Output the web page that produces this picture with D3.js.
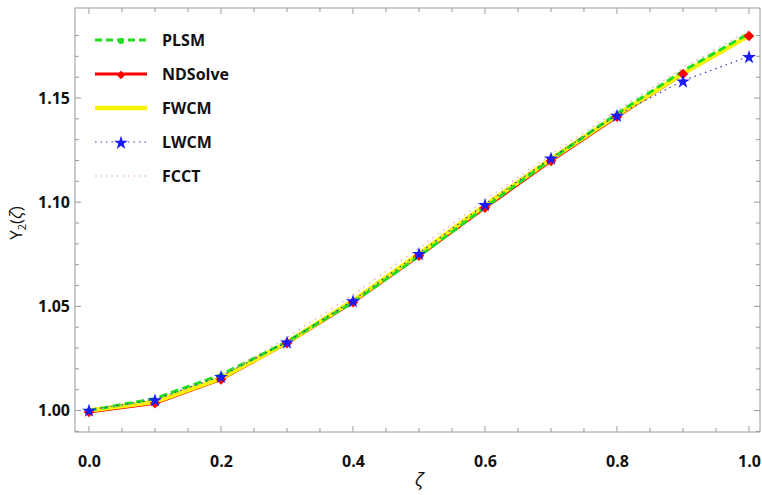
<!DOCTYPE html>
<html>
<head>
<meta charset="utf-8">
<script src="https://cdn.jsdelivr.net/npm/d3@7"></script>
<style>
  body { margin: 0; background: #fff; }
  svg { display: block; }
  text { font-family: "Open Sans", "DejaVu Sans", sans-serif; }
</style>
</head>
<body>
<svg id="chart" width="762" height="495"></svg>
<script>
const zeta = [0.0, 0.1, 0.2, 0.3, 0.4, 0.5, 0.6, 0.7, 0.8, 0.9, 1.0];
const PLSM    = [1.0000, 1.0058, 1.0172, 1.0330, 1.0520, 1.0740, 1.0975, 1.1205, 1.1425, 1.1630, 1.1810];
const NDSolve = [0.9993, 1.0035, 1.0149, 1.0323, 1.0520, 1.0743, 1.0973, 1.1198, 1.1410, 1.1615, 1.1798];
const FWCM    = [1.0000, 1.0042, 1.0155, 1.0327, 1.0527, 1.0752, 1.0985, 1.1207, 1.1418, 1.1618, 1.1800];
const LWCM    = [1.0003, 1.0053, 1.0165, 1.0330, 1.0528, 1.0755, 1.0990, 1.1213, 1.1418, 1.1583, 1.1700];
const FCCT    = [1.0000, 1.0045, 1.0165, 1.0350, 1.0555, 1.0780, 1.1010, 1.1230, 1.1440, 1.1645, 1.1825];
const xTicks = [0.0, 0.2, 0.4, 0.6, 0.8, 1.0];
const yTicks = [1.00, 1.05, 1.10, 1.15];
const seriesNames = ["PLSM", "NDSolve", "FWCM", "LWCM", "FCCT"];

const svg = d3.select("#chart");
const L = 75, R = 760, T = 8, B = 432;
const x = d3.scaleLinear().domain([-0.02121, 1.01667]).range([L, R]);
const y = d3.scaleLinear().domain([0.9897, 1.1932]).range([B, T]);
const frameColor = "#9a9a9a";

// frame
svg.append("rect").attr("x", L).attr("y", T).attr("width", R - L).attr("height", B - T)
  .attr("fill", "none").attr("stroke", frameColor).attr("stroke-width", 1);

// ticks (inward on all four sides)
const xMinor = d3.range(0, 1.0001, 0.05);
const yMinor = d3.range(0.99, 1.19, 0.01);
const tk = svg.append("g").attr("stroke", frameColor).attr("stroke-width", 1);
xMinor.forEach(v => {
  const len = (Math.abs(v * 5 - Math.round(v * 5)) < 1e-6) ? 6 : 4;
  tk.append("line").attr("x1", x(v)).attr("x2", x(v)).attr("y1", B).attr("y2", B - len);
  tk.append("line").attr("x1", x(v)).attr("x2", x(v)).attr("y1", T).attr("y2", T + len);
});
yMinor.forEach(v => {
  if (y(v) > B || y(v) < T) return;
  const len = (Math.abs(v * 20 - Math.round(v * 20)) < 1e-6) ? 6 : 4;
  tk.append("line").attr("y1", y(v)).attr("y2", y(v)).attr("x1", L).attr("x2", L + len);
  tk.append("line").attr("y1", y(v)).attr("y2", y(v)).attr("x1", R).attr("x2", R - len);
});

// tick labels via axis generators (lines hidden)
const xAxis = svg.append("g").attr("transform", `translate(0,${B})`)
  .call(d3.axisBottom(x).tickValues(xTicks).tickFormat(d3.format(".1f")).tickSize(0).tickPadding(24));
const yAxis = svg.append("g").attr("transform", `translate(${L},0)`)
  .call(d3.axisLeft(y).tickValues(yTicks).tickFormat(d3.format(".2f")).tickSize(0).tickPadding(5));
[xAxis, yAxis].forEach(a => {
  a.select(".domain").remove();
  a.selectAll("text").attr("font-size", 16).attr("font-weight", 700).attr("fill", "#111")
    .attr("font-family", "'Open Sans', sans-serif");
});

// axis titles
svg.append("text").attr("x", x(0.5)).attr("y", 486).attr("text-anchor", "middle")
  .attr("font-size", 19).attr("font-style", "italic").attr("fill", "#111")
  .attr("font-family", "'DejaVu Serif', serif").text("ζ");
const yl = svg.append("text").attr("transform", `translate(22,223) rotate(-90)`)
  .attr("text-anchor", "middle").attr("font-size", 17).attr("fill", "#111");
yl.append("tspan").text("Y");
yl.append("tspan").attr("font-size", 11).attr("dy", 4).text("2");
yl.append("tspan").attr("dy", -4).text("(");
yl.append("tspan").attr("font-style", "italic").text("ζ");
yl.append("tspan").text(")");

// series
const mk = arr => zeta.map((z, i) => [z, arr[i]]);
const line = d3.line().x(d => x(d[0])).y(d => y(d[1]));
const plot = svg.append("g");

plot.append("path").datum(mk(NDSolve)).attr("d", line).attr("fill", "none")
  .attr("stroke", "#ff0000").attr("stroke-width", 3);
plot.append("path").datum(mk(FWCM)).attr("d", line).attr("fill", "none")
  .attr("stroke", "#f5f500").attr("stroke-width", 4.5);
plot.append("path").datum(mk(PLSM)).attr("d", line).attr("fill", "none")
  .attr("stroke", "#22dd22").attr("stroke-width", 3).attr("stroke-dasharray", "8,4");
plot.append("path").datum(mk(FCCT)).attr("d", line).attr("fill", "none")
  .attr("stroke", "#f0a0a8").attr("stroke-width", 1.2).attr("stroke-dasharray", "1.5,5");
plot.append("path").datum(mk(LWCM)).attr("d", line).attr("fill", "none")
  .attr("stroke", "#3a3ab0").attr("stroke-width", 1.2).attr("stroke-dasharray", "1.5,4");

const diamond = d3.symbol().type(d3.symbolSquare).size(55);
const star = d3.symbol().type(d3.symbolStar).size(60);
const circle = d3.symbol().type(d3.symbolCircle).size(30);

plot.selectAll(".nd").data(mk(NDSolve)).enter().append("path")
  .attr("d", diamond).attr("transform", d => `translate(${x(d[0])},${y(d[1])}) rotate(45)`).attr("fill", "#ff0000");
plot.selectAll(".lw").data(mk(LWCM)).enter().append("path")
  .attr("d", star).attr("transform", d => `translate(${x(d[0])},${y(d[1]) + 1})`).attr("fill", "#1a1aff");

// legend
const leg = svg.append("g");
const rows = [40, 74, 108, 142, 176];
const lx1 = 95, lx2 = 147, lxm = 121;
function legLine(i, stroke, w, dash) {
  leg.append("line").attr("x1", lx1).attr("x2", lx2).attr("y1", rows[i]).attr("y2", rows[i])
    .attr("stroke", stroke).attr("stroke-width", w).attr("stroke-dasharray", dash || null);
}
legLine(0, "#22dd22", 3, "7,4");
leg.append("path").attr("d", circle).attr("transform", `translate(${lxm},${rows[0] + 1})`).attr("fill", "#22dd22");
legLine(1, "#ff0000", 3);
leg.append("path").attr("d", d3.symbol().type(d3.symbolSquare).size(36)).attr("transform", `translate(${lxm},${rows[1] + 1}) rotate(45)`).attr("fill", "#ff0000");
legLine(2, "#f5f500", 4.5);
legLine(3, "#3a3ab0", 1.2, "1.5,4");
leg.append("path").attr("d", star).attr("transform", `translate(${lxm},${rows[3] + 1})`).attr("fill", "#1a1aff");
legLine(4, "#f0a0a8", 1.2, "1.5,4");
seriesNames.forEach((n, i) => {
  leg.append("text").attr("x", 162).attr("y", rows[i]).attr("dy", "0.36em")
    .attr("font-size", 16).attr("font-weight", 700).attr("fill", "#111").text(n);
});
</script>
</body>
</html>
